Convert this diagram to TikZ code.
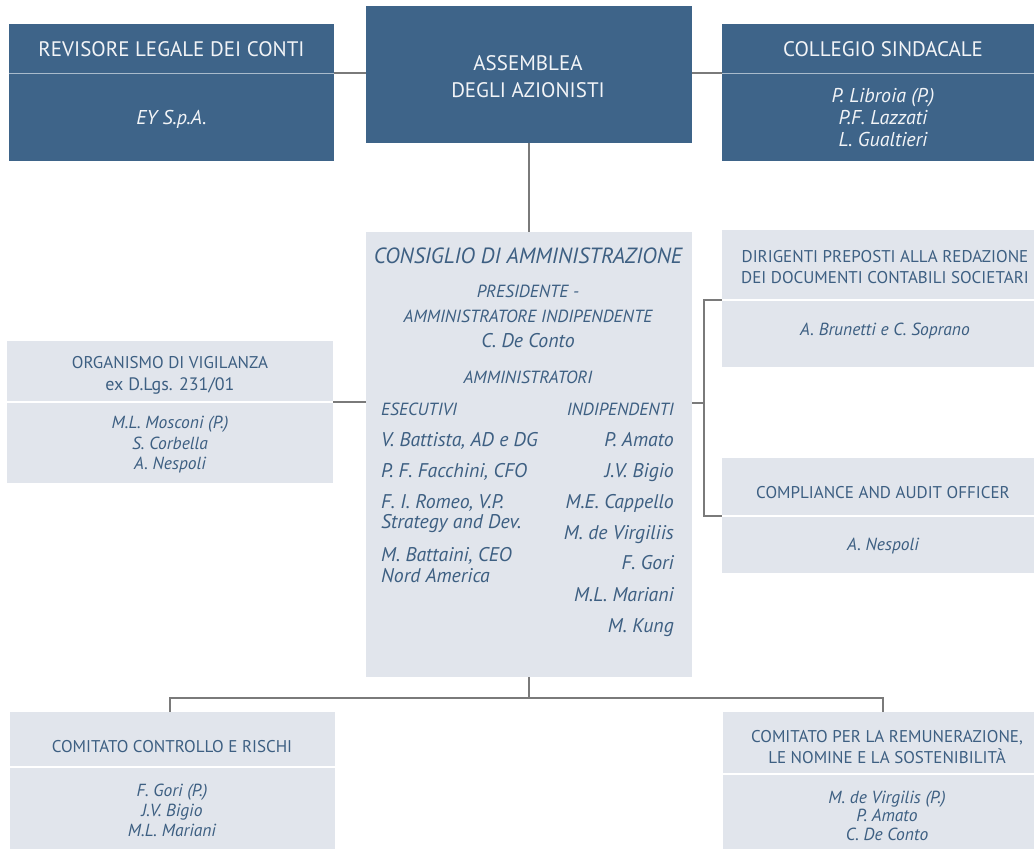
\documentclass[tikz,border=0pt]{standalone}
\usepackage{fontspec}
\setmainfont{PT Sans}
\definecolor{dkblue}{HTML}{3E6489}
\definecolor{ltbox}{HTML}{E1E5EC}
\definecolor{txtblue}{HTML}{3D5F82}
\definecolor{conncol}{HTML}{7A7A7A}
\definecolor{divdk}{HTML}{A9BBCC}
\definecolor{titlewhite}{HTML}{F2F4F7}
\begin{document}
\begin{tikzpicture}[x=1pt,y=-1pt,
  darkbox/.style={fill=dkblue,draw=none,inner sep=0pt,rectangle},
  lightbox/.style={fill=ltbox,draw=none,inner sep=0pt,rectangle},
  divdark/.style={draw=divdk,line width=1pt},
  divlight/.style={draw=white,line width=1.2pt},
  conn/.style={draw=conncol,line width=1.3pt},
  ttlw/.style={text=titlewhite,font=\fontsize{21}{24}\selectfont,anchor=base,inner sep=0pt},
  namew/.style={text=titlewhite,font=\fontsize{20}{22}\selectfont\itshape,anchor=base,inner sep=0pt},
  ttlb/.style={text=txtblue,font=\fontsize{17}{21.5}\selectfont,anchor=base,inner sep=0pt},
  nameb/.style={text=txtblue,font=\fontsize{17.5}{21}\selectfont\itshape,anchor=base,inner sep=0pt},
  cdat/.style={text=txtblue,font=\fontsize{17.6}{21}\selectfont\itshape,anchor=base,inner sep=0pt},
  cdan/.style={text=txtblue,font=\fontsize{19.8}{21}\selectfont\itshape,inner sep=0pt},
]
\useasboundingbox (0,0) rectangle (1034,849);
% boxes
\node[darkbox,minimum width=325,minimum height=137] (rev) at (171.5,92.5) {};
\node[darkbox,minimum width=326,minimum height=137] (ass) at (529,74.5) {};
\node[darkbox,minimum width=312,minimum height=137] (col) at (878,92.5) {};
\node[lightbox,minimum width=326,minimum height=445] (cda) at (529,454.5) {};
\node[lightbox,minimum width=326,minimum height=142] (odv) at (170,412) {};
\node[lightbox,minimum width=312,minimum height=137] (dir) at (878,298.5) {};
\node[lightbox,minimum width=312,minimum height=115] (comp) at (878,515.5) {};
\node[lightbox,minimum width=325,minimum height=137] (ccr) at (172.5,780.5) {};
\node[lightbox,minimum width=311,minimum height=137] (crn) at (878.5,780.5) {};
% dividers
\coordinate (revd) at (0,73);
\coordinate (cold) at (0,73);
\coordinate (odvd) at (0,402);
\coordinate (dird) at (0,300);
\coordinate (compd) at (0,516);
\coordinate (ccrd) at (0,767);
\coordinate (crnd) at (0,774);
\draw[divdark] (rev.west |- revd) -- (rev.east |- revd);
\draw[divdark] (col.west |- cold) -- (col.east |- cold);
\draw[divlight] (odv.west |- odvd) -- (odv.east |- odvd);
\draw[divlight] (dir.west |- dird) -- (dir.east |- dird);
\draw[divlight] (comp.west |- compd) -- (comp.east |- compd);
\draw[divlight] (ccr.west |- ccrd) -- (ccr.east |- ccrd);
\draw[divlight] (crn.west |- crnd) -- (crn.east |- crnd);
% connectors
\draw[conn] (rev.east |- revd) -- (ass.west |- revd);
\draw[conn] (ass.east |- cold) -- (col.west |- cold);
\draw[conn] (ass.south) -- (cda.north);
\draw[conn] (odv.east |- odvd) -- (cda.west |- odvd);
\coordinate (brk) at (704,403);
\draw[conn] (cda.east |- brk) -- (brk);
\draw[conn] (dir.west |- dird) -- (brk |- dird) -- (brk |- compd) -- (comp.west |- compd);
\coordinate (bus) at (0,698);
\draw[conn] (cda.south) -- (cda.south |- bus);
\draw[conn] ([xshift=-2.5pt]ccr.north) -- ([xshift=-2.5pt]ccr.north |- bus) -- ([xshift=4.5pt]crn.north |- bus) -- ([xshift=4.5pt]crn.north);
% texts: top row
\node[ttlw] (revT) at (171.5,56) {REVISORE LEGALE DEI CONTI};
\node[namew] (revN) at (171.5,124) {EY S.p.A.};
\node[ttlw] (assT1) at (528,70) {ASSEMBLEA};
\node[ttlw] (assT2) at (528,97) {DEGLI AZIONISTI};
\node[ttlw] (colT) at (883,56) {COLLEGIO SINDACALE};
\node[namew] (colN1) at (883,102) {P. Libroia (P.)};
\node[namew] (colN2) at (883,124) {P.F. Lazzati};
\node[namew] (colN3) at (883,146) {L. Gualtieri};
% CdA
\node[cdat,font=\fontsize{22}{24}\selectfont\itshape] (cdaT) at (528,263) {CONSIGLIO DI AMMINISTRAZIONE};
\node[cdat] (pres1) at (528,297) {PRESIDENTE -};
\node[cdat] (pres2) at (528,322) {AMMINISTRATORE INDIPENDENTE};
\node[cdan,anchor=base] (pres3) at (528,347) {C. De Conto};
\node[cdat] (amm) at (528,383) {AMMINISTRATORI};
\node[cdat,anchor=base west] (ese) at (381,415) {ESECUTIVI};
\node[cdat,anchor=base east] (ind) at (674,415) {INDIPENDENTI};
\node[cdan,anchor=base west] (e1) at (381,446) {V. Battista, AD e DG};
\node[cdan,anchor=base west] (e2) at (381,477) {P. F. Facchini, CFO};
\node[cdan,anchor=base west] (e3a) at (381,508) {F. I. Romeo, V.P.};
\node[cdan,anchor=base west] (e3b) at (381,528) {Strategy and Dev.};
\node[cdan,anchor=base west] (e4a) at (381,561) {M. Battaini, CEO};
\node[cdan,anchor=base west] (e4b) at (381,582) {Nord America};
\node[cdan,anchor=base east] (i1) at (674,446) {P. Amato};
\node[cdan,anchor=base east] (i2) at (674,477) {J.V. Bigio};
\node[cdan,anchor=base east] (i3) at (674,508) {M.E. Cappello};
\node[cdan,anchor=base east] (i4) at (674,539) {M. de Virgiliis};
\node[cdan,anchor=base east] (i5) at (674,569) {F. Gori};
\node[cdan,anchor=base east] (i6) at (674,601) {M.L. Mariani};
\node[cdan,anchor=base east] (i7) at (674,632) {M. Kung};
% OdV
\node[ttlb] (odvT1) at (170,368) {ORGANISMO DI VIGILANZA};
\node[ttlb,font=\fontsize{18}{21}\selectfont] (odvT2) at (170,390) {ex D.Lgs. 231/01};
\node[nameb] (odvN1) at (170,428) {M.L. Mosconi (P.)};
\node[nameb] (odvN2) at (170,449) {S. Corbella};
\node[nameb] (odvN3) at (170,469) {A. Nespoli};
% Dirigenti
\node[ttlb] (dirT1) at (885,262) {DIRIGENTI PREPOSTI ALLA REDAZIONE};
\node[ttlb] (dirT2) at (885,283) {DEI DOCUMENTI CONTABILI SOCIETARI};
\node[nameb] (dirN) at (885,335) {A. Brunetti e C. Soprano};
% Compliance
\node[ttlb] (compT) at (883,498) {COMPLIANCE AND AUDIT OFFICER};
\node[nameb] (compN) at (883,550) {A. Nespoli};
% bottom
\node[ttlb] (ccrT) at (172,752) {COMITATO CONTROLLO E RISCHI};
\node[nameb] (ccrN1) at (172,796) {F. Gori (P.)};
\node[nameb] (ccrN2) at (172,816) {J.V. Bigio};
\node[nameb] (ccrN3) at (172,836) {M.L. Mariani};
\node[ttlb] (crnT1) at (887,742) {COMITATO PER LA REMUNERAZIONE,};
\node[ttlb] (crnT2) at (887,763) {LE NOMINE E LA SOSTENIBILITÀ};
\node[nameb] (crnN1) at (887,803) {M. de Virgilis (P.)};
\node[nameb] (crnN2) at (887,821) {P. Amato};
\node[nameb] (crnN3) at (887,840) {C. De Conto};
\end{tikzpicture}
\end{document}
